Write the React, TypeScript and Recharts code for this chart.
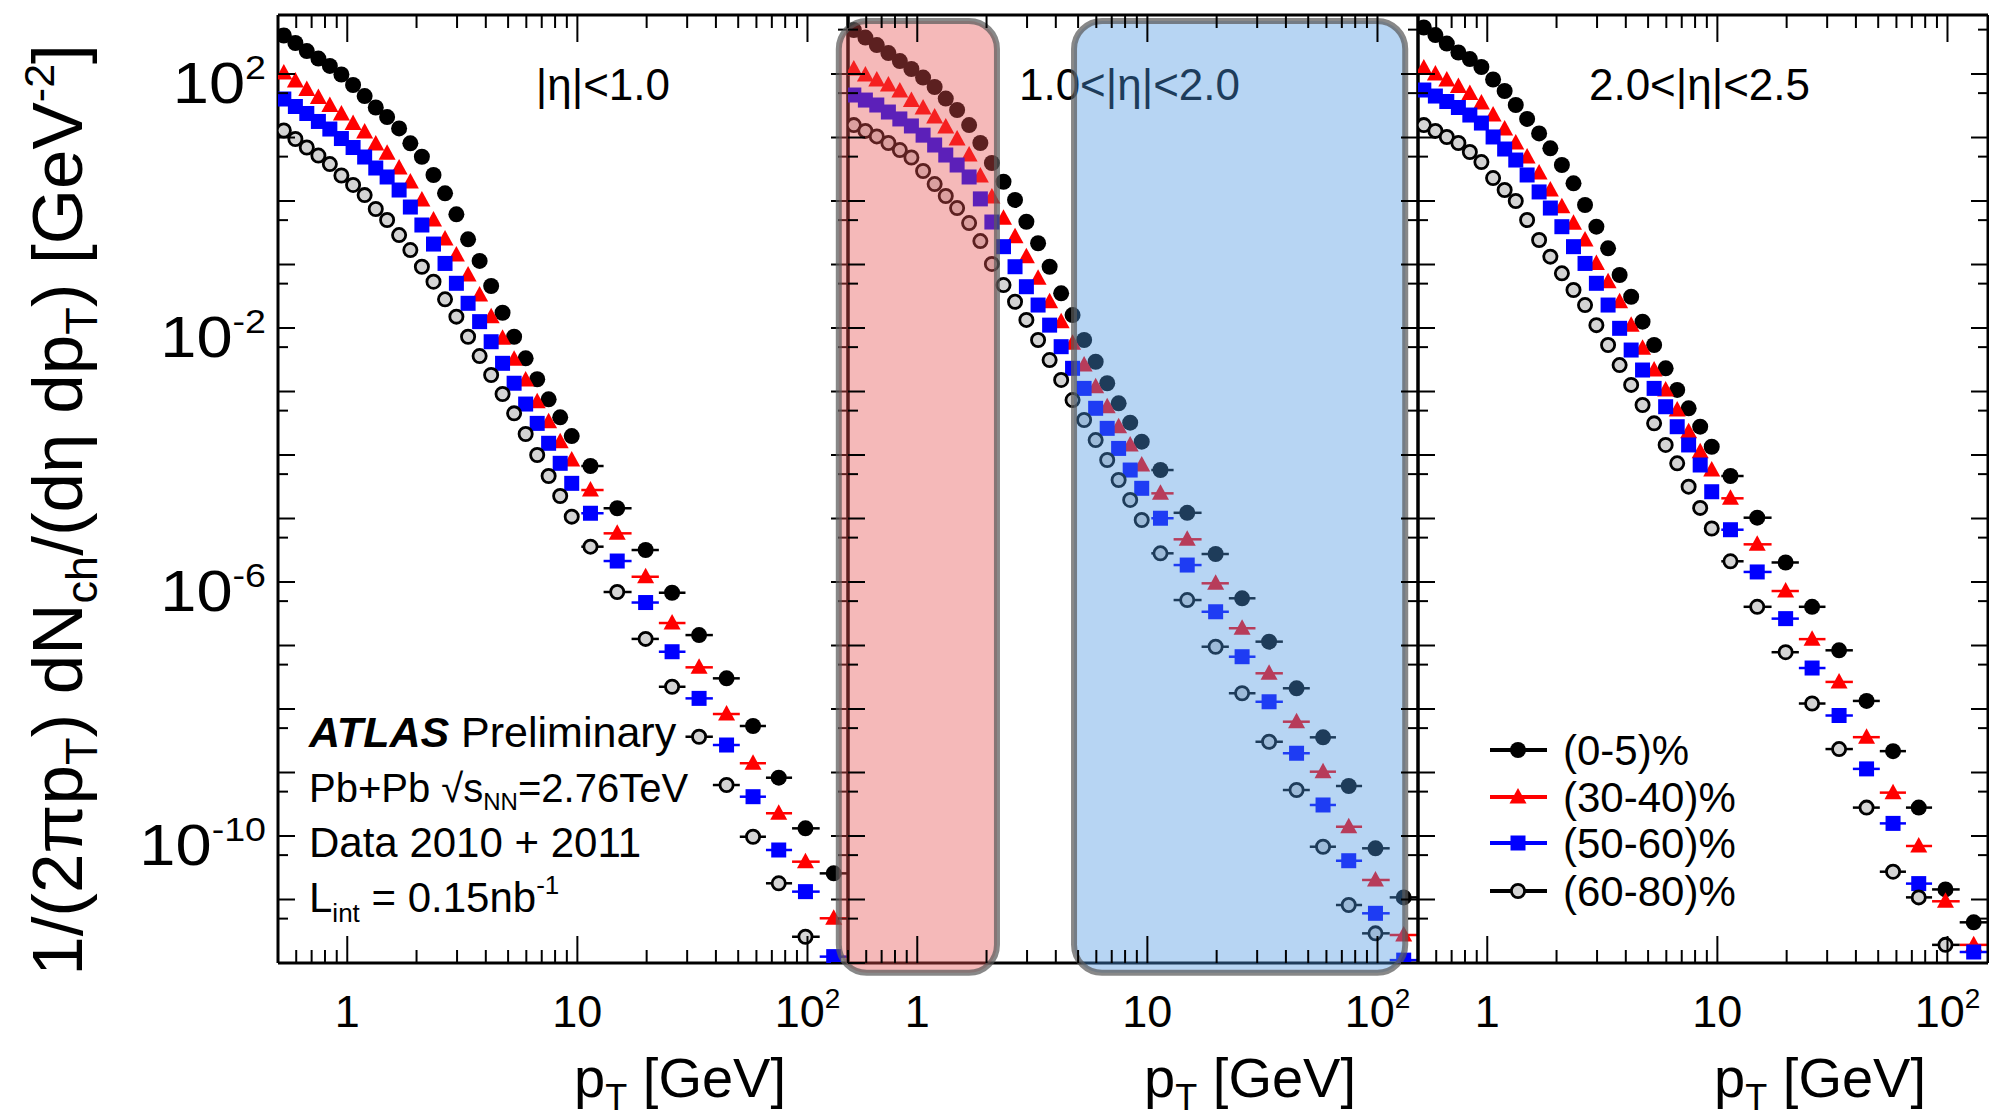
import React from 'react';
import { ScatterChart, Scatter, XAxis, YAxis, ErrorBar, ReferenceArea } from 'recharts';

// ---------------- data ----------------
const PT = [0.53, 0.595, 0.667, 0.749, 0.84, 0.943, 1.06, 1.19, 1.33, 1.49, 1.68, 1.88, 2.11, 2.37, 2.66, 2.98, 3.35, 3.76, 4.22, 4.73, 5.31, 5.96, 6.69, 7.5, 8.42, 9.45, 11.4, 14.9, 19.8, 25.8, 33.8, 44.5, 58, 75, 98, 130];
// bin edges of the wide high-pT bins (last 10 points)
const HIGH_PT_EDGES = [10.4, 13.0, 17.2, 22.6, 29.5, 38.8, 50.8, 66, 85.7, 113, 150];

const ETA1_C0_5 = [404, 308, 230, 175, 134, 98.2, 67.1, 45.0, 29.7, 21.0, 13.9, 8.10, 4.98, 2.57, 1.32, 0.617, 0.249, 0.114, 0.0459, 0.0174, 7.29e-3, 3.33e-3, 1.56e-3, 7.53e-4, 3.92e-4, 1.99e-4, 6.71e-5, 1.45e-5, 3.19e-6, 6.78e-7, 1.46e-7, 3.04e-8, 5.40e-9, 8.28e-10, 1.32e-10, 2.58e-11];
const ETA1_C30_40 = [104, 77.6, 57.0, 42.6, 31.9, 23.4, 16.6, 12.2, 7.90, 5.64, 3.31, 1.99, 1.04, 0.502, 0.252, 0.141, 0.0683, 0.0331, 0.0151, 6.88e-3, 3.21e-3, 1.52e-3, 6.91e-4, 3.34e-4, 1.62e-4, 8.34e-5, 2.81e-5, 5.84e-6, 1.21e-6, 2.26e-7, 4.53e-8, 8.34e-9, 1.40e-9, 2.28e-10, 3.94e-11, 5.06e-12];
const ETA1_C50_60 = [40.4, 30.8, 23.9, 17.9, 13.6, 9.64, 6.96, 4.93, 3.31, 2.39, 1.49, 0.804, 0.419, 0.210, 0.104, 0.0506, 0.0245, 0.0126, 6.08e-3, 2.78e-3, 1.35e-3, 6.35e-4, 3.15e-4, 1.53e-4, 7.40e-5, 3.58e-5, 1.21e-5, 2.14e-6, 4.75e-7, 7.98e-8, 1.47e-8, 2.71e-9, 4.16e-10, 6.02e-11, 1.33e-11, 1.26e-12];
const ETA1_C60_80 = [12.9, 9.47, 6.96, 5.20, 3.82, 2.52, 1.79, 1.24, 0.748, 0.502, 0.291, 0.169, 0.0923, 0.0536, 0.0283, 0.0151, 7.29e-3, 3.62e-3, 1.82e-3, 9.13e-4, 4.53e-4, 2.14e-4, 1.00e-4, 4.67e-5, 2.26e-5, 1.07e-5, 3.60e-6, 6.96e-7, 1.27e-7, 2.24e-8, 3.66e-9, 6.35e-10, 9.74e-11, 1.80e-11, 2.59e-12, null];

const ETA2_C0_5 = [493, 375, 286, 214, 160, 120, 88.0, 62.4, 41.1, 27.1, 15.7, 8.19, 3.97, 2.01, 1.04, 0.472, 0.216, 0.0923, 0.0352, 0.0160, 6.47e-3, 2.94e-3, 1.35e-3, 6.52e-4, 3.23e-4, 1.62e-4, 5.80e-5, 1.23e-5, 2.76e-6, 5.54e-7, 1.15e-7, 2.12e-8, 3.58e-9, 6.13e-10, 6.40e-11, 1.08e-11];
const ETA2_C30_40 = [120, 96.4, 80.4, 67.1, 54.0, 38.2, 29.1, 21.0, 14.6, 9.47, 5.30, 2.47, 1.16, 0.534, 0.274, 0.133, 0.0606, 0.0259, 0.0126, 5.74e-3, 2.61e-3, 1.19e-3, 5.76e-4, 2.79e-4, 1.44e-4, 6.96e-5, 2.49e-5, 4.70e-6, 9.54e-7, 1.87e-7, 3.65e-8, 6.31e-9, 1.03e-9, 1.40e-10, 2.03e-11, 2.76e-12];
const ETA2_C50_60 = [46.7, 38.9, 32.5, 25.2, 19.6, 15.2, 10.9, 7.62, 5.30, 3.69, 2.39, 1.08, 0.467, 0.191, 0.0923, 0.0447, 0.0230, 0.0111, 5.08e-3, 2.32e-3, 1.12e-3, 5.44e-4, 2.63e-4, 1.27e-4, 5.80e-5, 2.99e-5, 1.01e-5, 1.85e-6, 3.40e-7, 6.66e-8, 1.30e-8, 2.01e-9, 3.08e-10, 4.08e-11, 6.06e-12, 1.11e-12];
const ETA2_C60_80 = [15.7, 12.7, 10.4, 8.19, 6.35, 4.84, 2.97, 1.85, 1.20, 0.775, 0.450, 0.234, 0.102, 0.0475, 0.0259, 0.0134, 6.47e-3, 3.13e-3, 1.52e-3, 7.34e-4, 3.56e-4, 1.72e-4, 8.34e-5, 4.04e-5, 1.96e-5, 9.47e-6, 2.83e-6, 5.20e-7, 9.57e-8, 1.77e-8, 3.05e-9, 5.30e-10, 6.78e-11, 8.19e-12, 2.93e-12, null];

const ETA3_C0_5 = [540, 411, 302, 218, 172, 129, 81.9, 54.0, 32.5, 19.6, 11.6, 6.76, 3.69, 1.90, 0.865, 0.394, 0.180, 0.0683, 0.0311, 0.0126, 5.40e-3, 2.32e-3, 1.06e-3, 5.44e-4, 2.79e-4, 1.35e-4, 4.67e-5, 1.03e-5, 2.03e-6, 4.07e-7, 8.40e-8, 1.34e-8, 2.17e-9, 2.80e-10, 1.44e-11, 4.37e-12];
const ETA3_C30_40 = [124, 100, 80.4, 63.5, 49.3, 34.9, 22.6, 13.6, 8.19, 4.93, 2.76, 1.49, 0.813, 0.445, 0.243, 0.104, 0.0536, 0.0259, 0.0111, 4.79e-3, 2.18e-3, 1.06e-3, 5.11e-4, 2.33e-4, 1.13e-4, 5.80e-5, 2.08e-5, 3.92e-6, 7.21e-7, 1.26e-7, 2.67e-8, 3.60e-9, 4.82e-10, 6.96e-11, 9.37e-12, 1.93e-12];
const ETA3_C50_60 = [56.0, 45.0, 36.9, 29.7, 22.6, 16.9, 10.2, 6.59, 4.42, 2.57, 1.39, 0.775, 0.394, 0.191, 0.104, 0.0506, 0.0230, 9.89e-3, 4.50e-3, 2.18e-3, 1.12e-3, 5.76e-4, 2.79e-4, 1.44e-4, 6.96e-5, 2.64e-5, 6.66e-6, 1.44e-6, 2.65e-7, 4.42e-8, 7.90e-9, 1.14e-9, 1.58e-10, 1.78e-11, null, 1.49e-12];
const ETA3_C60_80 = [15.7, 12.7, 10.2, 8.19, 5.91, 4.11, 2.30, 1.49, 1.00, 0.502, 0.243, 0.133, 0.0727, 0.0397, 0.0230, 0.0111, 5.40e-3, 2.61e-3, 1.27e-3, 6.13e-4, 3.15e-4, 1.44e-4, 7.40e-5, 3.17e-5, 1.47e-5, 6.96e-6, 2.12e-6, 4.07e-7, 7.84e-8, 1.22e-8, 2.34e-9, 2.80e-10, 2.74e-11, 1.08e-11, 1.93e-12, null];

const CENTRALITIES = ['(0-5)%', '(30-40)%', '(50-60)%', '(60-80)%'];
const ETA_LABELS = ['|η|<1.0', '1.0<|η|<2.0', '2.0<|η|<2.5'];

const X_DOMAIN: [number, number] = [0.5, 150];
const Y_DOMAIN: [number, number] = [1e-12, 850];
const X_TICKS = [0.5, 0.6, 0.7, 0.8, 0.9, 1, 2, 3, 4, 5, 6, 7, 8, 9, 10, 20, 30, 40, 50, 60, 70, 80, 90, 100];
const X_MAJOR = [1, 10, 100];
const Y_TICKS = [1e-12, 5e-12, 1e-11, 5e-11, 1e-10, 5e-10, 1e-9, 5e-9, 1e-8, 5e-8, 1e-7, 5e-7, 1e-6, 5e-6, 1e-5, 5e-5, 1e-4, 5e-4, 1e-3, 5e-3, 1e-2, 5e-2, 0.1, 0.5, 1, 5, 10, 50, 100, 500];
const Y_LABEL_EXPONENTS = [2, -2, -6, -10];

// highlight boxes (data coordinates of panel 2)
const HIGHLIGHTS = [
  { x1: 0.456, x2: 2.22, y1: 7e-13, y2: 683, fill: 'rgba(230,80,80,0.4)' },
  { x1: 4.8, x2: 132, y1: 7e-13, y2: 683, fill: 'rgba(75,150,225,0.4)' },
];

// ---------------- layout / style ----------------
const W = 1989;
const H = 1120;
const TOP = 15;
const BOTTOM = 963;
const PANEL_W = 570;
const PANEL_LEFTS = [278, 848, 1418];
const FONT = '"Liberation Sans", Arial, Helvetica, sans-serif';

const SERIES_BY_PANEL = [
  [ETA1_C0_5, ETA1_C30_40, ETA1_C50_60, ETA1_C60_80],
  [ETA2_C0_5, ETA2_C30_40, ETA2_C50_60, ETA2_C60_80],
  [ETA3_C0_5, ETA3_C30_40, ETA3_C50_60, ETA3_C60_80],
];
const SERIES_COLORS = ['#000000', '#ff0000', '#0000ff', '#000000'];

// ---------------- marker shapes ----------------
const DotShape = (p: any) => (p.cx == null ? <g /> : <circle cx={p.cx} cy={p.cy} r={8} fill="#000" />);
const TriShape = (p: any) =>
  p.cx == null ? <g /> : (
    <polygon points={`${p.cx},${p.cy - 9} ${p.cx - 8.5},${p.cy + 6.5} ${p.cx + 8.5},${p.cy + 6.5}`} fill="#ff0000" />
  );
const SqShape = (p: any) => (p.cx == null ? <g /> : <rect x={p.cx - 7.5} y={p.cy - 7.5} width={15} height={15} fill="#0000ff" />);
const OpenShape = (p: any) =>
  p.cx == null ? <g /> : <circle cx={p.cx} cy={p.cy} r={6.6} fill="#d4d4d4" stroke="#000" strokeWidth={2.8} />;
const SHAPES = [DotShape, TriShape, SqShape, OpenShape];

function buildRows(values: (number | null)[]) {
  const rows: { x: number; y: number; ex: [number, number] }[] = [];
  const nLow = PT.length - (HIGH_PT_EDGES.length - 1);
  values.forEach((v, i) => {
    if (v == null) return;
    const pt = PT[i];
    let ex: [number, number] = [0, 0];
    if (i >= nLow) {
      const k = i - nLow;
      ex = [pt - HIGH_PT_EDGES[k], HIGH_PT_EDGES[k + 1] - pt];
    }
    rows.push({ x: pt, y: v, ex });
  });
  return rows;
}

// ---------------- ticks ----------------
const isDecade = (v: number) => Math.abs(Math.log10(v) - Math.round(Math.log10(v))) < 1e-6;

const makeYLeftTick = (withLabels: boolean) => (props: any) => {
  const { x, y, payload } = props;
  const v = payload.value;
  const major = isDecade(v);
  const len = major ? 17 : 10;
  const e = Math.round(Math.log10(v));
  const showLabel = withLabels && major && Y_LABEL_EXPONENTS.includes(e);
  return (
    <g>
      <line x1={x} y1={y} x2={x + len} y2={y} stroke="#000" strokeWidth={2} />
      {showLabel && (
        <text
          transform={`translate(${x - 12},${y + 29}) scale(1.14,1)`}
          textAnchor="end"
          fontSize={57}
          fontFamily={FONT}
          fill="#000"
        >
          10
          <tspan dy={-24} fontSize={33}>
            {String(e)}
          </tspan>
        </text>
      )}
    </g>
  );
};

const YRightTick = (props: any) => {
  const { x, y, payload } = props;
  const len = isDecade(payload.value) ? 17 : 10;
  return <line x1={x} y1={y} x2={x - len} y2={y} stroke="#000" strokeWidth={2} />;
};

const XBottomTick = (props: any) => {
  const { x, y, payload } = props;
  const v = payload.value;
  const major = X_MAJOR.includes(v);
  const len = major ? 27 : 13;
  return (
    <g>
      <line x1={x} y1={y} x2={x} y2={y - len} stroke="#000" strokeWidth={2} />
      {major && (
        <text x={x} y={y + 64} textAnchor="middle" fontSize={45} fontFamily={FONT} fill="#000">
          {v === 100 ? (
            <>
              10
              <tspan dy={-19} fontSize={28}>
                2
              </tspan>
            </>
          ) : (
            String(v)
          )}
        </text>
      )}
    </g>
  );
};

const XTopTick = (props: any) => {
  const { x, y, payload } = props;
  const len = X_MAJOR.includes(payload.value) ? 27 : 13;
  return <line x1={x} y1={y} x2={x} y2={y + len} stroke="#000" strokeWidth={2} />;
};

const AXIS_LINE = { stroke: '#000', strokeWidth: 3 };

function Panel({ index }: { index: number }) {
  const left = PANEL_LEFTS[index];
  const series = SERIES_BY_PANEL[index];
  return (
    <ScatterChart
      width={W}
      height={H}
      margin={{ top: TOP, bottom: H - BOTTOM, left, right: W - left - PANEL_W }}
    >
      <XAxis
        xAxisId="b"
        dataKey="x"
        type="number"
        scale="log"
        domain={X_DOMAIN}
        allowDataOverflow
        orientation="bottom"
        mirror
        ticks={X_TICKS}
        interval={0}
        tickSize={0}
        tickMargin={0}
        tickLine={false}
        axisLine={AXIS_LINE}
        tick={XBottomTick}
      />
      <XAxis
        xAxisId="t"
        dataKey="x"
        type="number"
        scale="log"
        domain={X_DOMAIN}
        allowDataOverflow
        orientation="top"
        mirror
        ticks={X_TICKS}
        interval={0}
        tickSize={0}
        tickMargin={0}
        tickLine={false}
        axisLine={AXIS_LINE}
        tick={XTopTick}
      />
      <YAxis
        yAxisId="l"
        dataKey="y"
        type="number"
        scale="log"
        domain={Y_DOMAIN}
        allowDataOverflow
        orientation="left"
        mirror
        ticks={Y_TICKS}
        interval={0}
        tickSize={0}
        tickMargin={0}
        tickLine={false}
        axisLine={AXIS_LINE}
        tick={makeYLeftTick(index === 0)}
      />
      <YAxis
        yAxisId="r"
        dataKey="y"
        type="number"
        scale="log"
        domain={Y_DOMAIN}
        allowDataOverflow
        orientation="right"
        mirror
        ticks={Y_TICKS}
        interval={0}
        tickSize={0}
        tickMargin={0}
        tickLine={false}
        axisLine={AXIS_LINE}
        tick={YRightTick}
      />
      {series.map((vals, s) => (
        <Scatter
          key={s}
          name={CENTRALITIES[s]}
          xAxisId="b"
          yAxisId="l"
          data={buildRows(vals)}
          shape={SHAPES[s]}
          isAnimationActive={false}
        >
          <ErrorBar dataKey="ex" direction="x" width={0} stroke={SERIES_COLORS[s]} strokeWidth={2.5} isAnimationActive={false} />
        </Scatter>
      ))}
      {index === 1 &&
        HIGHLIGHTS.map((h, k) => (
          <ReferenceArea
            key={k}
            xAxisId="b"
            yAxisId="l"
            x1={h.x1}
            x2={h.x2}
            y1={h.y1}
            y2={h.y2}
            ifOverflow="visible"
            zIndex={1000}
            shape={(p: any) => (
              <rect
                x={p.x}
                y={p.y}
                width={p.width}
                height={p.height}
                rx={28}
                ry={28}
                fill={h.fill}
                stroke="rgba(90,90,90,0.72)"
                strokeWidth={6}
              />
            )}
          />
        ))}
    </ScatterChart>
  );
}

function Annotations() {
  const legendY = [750, 797, 843, 891];
  return (
    <svg width={W} height={H} style={{ position: 'absolute', left: 0, top: 0 }} fontFamily={FONT}>
      {/* y-axis title */}
      <text transform="translate(82,510) rotate(-90)" textAnchor="middle" fontSize={71} fill="#000">
        1/(2πp<tspan fontSize={45} dy={15}>T</tspan>
        <tspan dy={-15}>) dN</tspan>
        <tspan fontSize={45} dy={15}>ch</tspan>
        <tspan dy={-15}>/(dη dp</tspan>
        <tspan fontSize={45} dy={15}>T</tspan>
        <tspan dy={-15}>) [GeV</tspan>
        <tspan fontSize={43} dy={-28}>-2</tspan>
        <tspan dy={28}>]</tspan>
      </text>
      {PANEL_LEFTS.map((left, i) => (
        <g key={i}>
          <text x={left + 508} y={1097} textAnchor="end" fontSize={56} fill="#000">
            p<tspan fontSize={36} dy={13}>T</tspan>
            <tspan dy={-13}> [GeV]</tspan>
          </text>
          <text x={left + 392} y={100} textAnchor="end" fontSize={44} fill="#000">
            {ETA_LABELS[i]}
          </text>
        </g>
      ))}
      {/* ATLAS block */}
      <text x={309} y={747} fontSize={43} fill="#000">
        <tspan fontWeight="bold" fontStyle="italic">ATLAS</tspan>
        <tspan> Preliminary</tspan>
      </text>
      <text x={309} y={802} fontSize={40} fill="#000">
        Pb+Pb √s<tspan fontSize={24} dy={8}>NN</tspan>
        <tspan dy={-8}>=2.76TeV</tspan>
      </text>
      <text x={309} y={857} fontSize={42} fill="#000">
        Data 2010 + 2011
      </text>
      <text x={309} y={912} fontSize={42} fill="#000">
        L<tspan fontSize={26} dy={10}>int</tspan>
        <tspan dy={-10}> = 0.15nb</tspan>
        <tspan fontSize={26} dy={-18}>-1</tspan>
      </text>
      {/* legend */}
      {CENTRALITIES.map((c, s) => {
        const y = legendY[s];
        const Shape = SHAPES[s];
        return (
          <g key={c}>
            <line x1={1490} y1={y} x2={1547} y2={y} stroke={SERIES_COLORS[s]} strokeWidth={4} />
            <Shape cx={1518} cy={y} />
            <text x={1563} y={y + 15} fontSize={42} fill="#000">
              {c}
            </text>
          </g>
        );
      })}
    </svg>
  );
}

export default function App() {
  return (
    <div style={{ position: 'absolute', left: 0, top: 0, width: W, height: H, background: '#fff', overflow: 'hidden' }}>
      <Annotations />
      {PANEL_LEFTS.map((_, i) => (
        <div key={i} style={{ position: 'absolute', left: 0, top: 0, width: W, height: H }}>
          <Panel index={i} />
        </div>
      ))}
    </div>
  );
}
